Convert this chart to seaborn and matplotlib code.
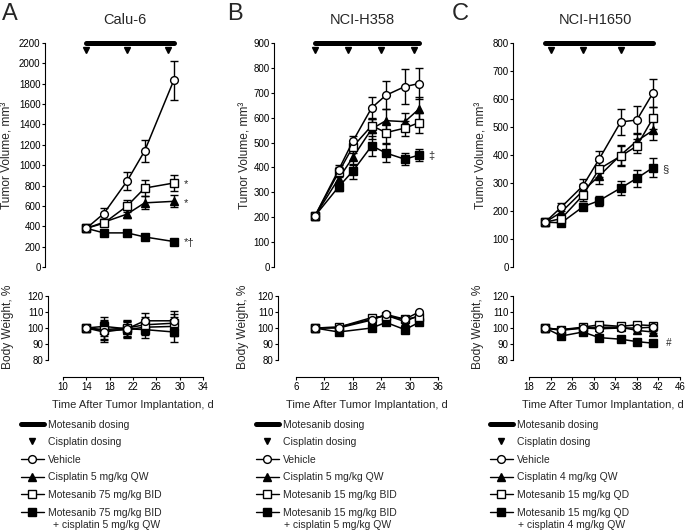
import matplotlib
matplotlib.use("Agg")
import matplotlib.pyplot as plt
from matplotlib.lines import Line2D
import seaborn as sns

# ── panel A : Calu-6 ─────────────────────────────────────────────────────
a_days = [14, 17, 21, 24, 29]
a_vehicle = [380, 525, 845, 1140, 1835]
a_vehicle_err = [20, 50, 90, 110, 190]
a_cis = [380, 440, 520, 630, 645]
a_cis_err = [20, 30, 35, 65, 60]
a_mot = [380, 430, 600, 775, 825]
a_mot_err = [20, 30, 60, 75, 80]
a_combo = [380, 335, 335, 295, 250]
a_combo_err = [20, 15, 15, 15, 12]

a_bw_days = [14, 17, 21, 24, 29]
a_bw_vehicle = [100, 97.5, 99.5, 104.5, 104.5]
a_bw_cis = [100, 98.5, 99, 100.5, 101]
a_bw_mot = [100, 99, 100, 102, 103]
a_bw_combo = [100, 101, 99.5, 99, 97.5]
a_bw_err = [1, 6, 5, 5, 6]

a_cis_dosing = [14, 21, 28]
a_mot_dosing = [14, 29]

# ── panel B : NCI-H358 ───────────────────────────────────────────────────
b_days = [10, 15, 18, 22, 25, 29, 32]
b_vehicle = [205, 390, 505, 640, 690, 725, 737]
b_vehicle_err = [8, 20, 20, 45, 57, 70, 62]
b_cis = [205, 355, 440, 555, 588, 584, 635]
b_cis_err = [8, 25, 30, 40, 45, 35, 50]
b_mot = [205, 380, 483, 568, 540, 558, 580]
b_mot_err = [8, 20, 25, 30, 40, 30, 40]
b_combo = [205, 322, 385, 487, 458, 433, 450]
b_combo_err = [8, 15, 30, 40, 35, 25, 25]

b_bw_days = [10, 15, 22, 25, 29, 32]
b_bw_vehicle = [100, 100, 105, 108.5, 105.5, 110]
b_bw_cis = [100, 100.5, 105.5, 108, 104, 108]
b_bw_mot = [100, 100.5, 106.5, 107.5, 105.5, 107]
b_bw_combo = [100, 97.5, 100, 103.5, 99, 103.5]
b_bw_err = [0.5, 0.5, 0.5, 0.5, 0.5, 0.5]

b_cis_dosing = [10, 17, 24, 31]
b_mot_dosing = [10, 32]

# ── panel C : NCI-H1650 ──────────────────────────────────────────────────
c_days = [21, 24, 28, 31, 35, 38, 41]
c_vehicle = [160, 214, 290, 385, 518, 525, 622]
c_vehicle_err = [5, 15, 25, 30, 45, 50, 50]
c_cis = [160, 196, 272, 325, 400, 450, 488]
c_cis_err = [5, 15, 25, 30, 35, 30, 35]
c_mot = [160, 173, 256, 350, 396, 432, 532]
c_mot_err = [5, 15, 20, 30, 35, 25, 40]
c_combo = [160, 158, 215, 237, 282, 317, 355]
c_combo_err = [5, 10, 12, 18, 25, 30, 35]

c_bw_days = [21, 24, 28, 31, 35, 38, 41]
c_bw_vehicle = [100, 98.5, 100, 99.5, 100, 100, 100.5]
c_bw_cis = [100, 99, 100, 100.5, 100.5, 98.5, 97.5]
c_bw_mot = [100, 99, 100.5, 102, 101, 102, 101.5]
c_bw_combo = [100, 95, 97.5, 94, 93, 91.5, 90.5]
c_bw_err = [0.5, 0.5, 0.5, 0.5, 0.5, 0.5, 0.5]

c_cis_dosing = [22, 28, 35]
c_mot_dosing = [21, 41]

# ── style ────────────────────────────────────────────────────────────────
sns.set_theme(style="ticks")
plt.rcParams["font.family"] = ["Liberation Sans", "DejaVu Sans"]
plt.rcParams.update({
    "axes.linewidth": 0.8,
    "xtick.major.width": 0.8, "ytick.major.width": 0.8,
    "xtick.major.size": 2.2, "ytick.major.size": 2.2,
    "xtick.major.pad": 1.2, "ytick.major.pad": 1.0,
    "xtick.labelsize": 7, "ytick.labelsize": 7,
    "xtick.color": "black", "ytick.color": "black",
    "axes.edgecolor": "black",
})

W, H = 685, 530
fig = plt.figure(figsize=(W / 100, H / 100), dpi=100)


def fx(px):
    return px / W


def fy(py):
    return 1 - py / H


STYLE = {
    "vehicle": dict(marker="o", markerfacecolor="white", markersize=5.6),
    "cis": dict(marker="^", markerfacecolor="black", markersize=5.4),
    "mot": dict(marker="s", markerfacecolor="white", markersize=5.2),
    "combo": dict(marker="s", markerfacecolor="black", markersize=5.2),
}
ORDER = ["combo", "cis", "mot", "vehicle"]


def draw_series(ax, days, vals, err, key):
    ax.errorbar(days, vals, yerr=err, fmt="none", ecolor="black",
                elinewidth=1.0, capsize=2.6, capthick=1.0, zorder=2, clip_on=False)
    sns.lineplot(x=days, y=vals, ax=ax, color="black", lw=1.1, errorbar=None,
                 markeredgecolor="black", markeredgewidth=1.0, zorder=3,
                 clip_on=False, **STYLE[key])


def panel(cfg):
    x0, x1 = cfg["xlim"]
    left, right = fx(cfg["px"][0]), fx(cfg["px"][1])

    # tumour volume
    ax = fig.add_axes([left, fy(267), right - left, 224 / H])
    ymax, ystep = cfg["ymax"], cfg["ystep"]
    for key in ORDER:
        draw_series(ax, cfg["days"], cfg[key], cfg[key + "_err"], key)
    ax.plot(cfg["mot_dosing"], [ymax] * len(cfg["mot_dosing"]), color="black",
            lw=3.6, solid_capstyle="round", clip_on=False)
    ax.plot(cfg["cis_dosing"], [ymax * 0.97] * len(cfg["cis_dosing"]), "v",
            color="black", ms=4.2, clip_on=False)
    ax.set_xlim(x0, x1)
    ax.set_ylim(0, ymax)
    ax.set_yticks(range(0, ymax + 1, ystep))
    ax.set_xticks([])
    ax.set_xlabel("")
    ax.set_ylabel("")
    for s in ["top", "right", "bottom"]:
        ax.spines[s].set_visible(False)
    ax.spines["left"].set_position(("outward", cfg["off_up"] * 0.72))
    for day, val, txt in cfg["notes"]:
        ax.annotate(txt, (day, val), xytext=(7, -1), textcoords="offset points",
                    fontsize=8, va="center", ha="left")

    # body weight
    bx = fig.add_axes([left, fy(360), right - left, 64 / H])
    for key in ORDER:
        draw_series(bx, cfg["bw_days"], cfg["bw_" + key], cfg["bw_err"], key)
    bx.set_xlim(x0, x1)
    bx.set_ylim(80, 120)
    bx.set_yticks([80, 90, 100, 110, 120])
    bx.set_xticks(cfg["xticks"])
    bx.set_xlabel("")
    bx.set_ylabel("")
    for s in ["top", "right"]:
        bx.spines[s].set_visible(False)
    bx.spines["left"].set_position(("outward", cfg["off_low"] * 0.72))
    bx.spines["bottom"].set_position(("outward", 17 * 0.72))
    if cfg.get("bw_note"):
        day, val, txt = cfg["bw_note"]
        bx.annotate(txt, (day, val), xytext=(9, 0), textcoords="offset points",
                    fontsize=7, va="center", ha="left", style="italic")

    # texts
    fig.text(fx(cfg["letter_x"]), fy(14), cfg["letter"], fontsize=17,
             ha="left", va="center")
    fig.text(fx(cfg["title_x"]), fy(20), cfg["title"], fontsize=10.5,
             ha="center", va="center")
    fig.text(fx(cfg["ylab_x"]), fy(155), "Tumor Volume, mm³", fontsize=8.6,
             rotation=90, ha="center", va="center")
    fig.text(fx(cfg["bwlab_x"]), fy(327), "Body Weight, %", fontsize=8.6,
             rotation=90, ha="center", va="center")
    fig.text(fx(cfg["xlab_x"]), fy(405), "Time After Tumor Implantation, d",
             fontsize=8, ha="center", va="center")

    # legend
    handles = [
        Line2D([], [], color="black", lw=3.6, solid_capstyle="round"),
        Line2D([], [], color="black", ls="none", marker="v", ms=4.2),
    ]
    for key in ["vehicle", "cis", "mot", "combo"]:
        handles.append(Line2D([], [], color="black", lw=1.0,
                              markeredgecolor="black", markeredgewidth=1.0,
                              **STYLE[key]))
    fig.legend(handles, cfg["legend"], loc="upper left",
               bbox_to_anchor=(fx(cfg["leg_x"]), fy(419.5)),
               bbox_transform=fig.transFigure, frameon=False, fontsize=7.5,
               handlelength=2.2, handletextpad=0.35, labelspacing=0.73,
               borderpad=0, borderaxespad=0)
    fig.text(fx(cfg["plus_x"]), fy(524.5), cfg["plus"], fontsize=7.5,
             ha="left", va="center")


panels = [
    dict(letter="A", letter_x=2, title="Calu-6", title_x=125, ylab_x=8, bwlab_x=8,
         xlab_x=133, px=(63, 203), xlim=(10, 34), xticks=list(range(10, 35, 4)),
         ymax=2200, ystep=200, off_up=18, off_low=15, leg_x=21, plus_x=53,
         days=a_days, vehicle=a_vehicle, vehicle_err=a_vehicle_err,
         cis=a_cis, cis_err=a_cis_err, mot=a_mot, mot_err=a_mot_err,
         combo=a_combo, combo_err=a_combo_err,
         bw_days=a_bw_days, bw_vehicle=a_bw_vehicle, bw_cis=a_bw_cis,
         bw_mot=a_bw_mot, bw_combo=a_bw_combo, bw_err=a_bw_err,
         cis_dosing=a_cis_dosing, mot_dosing=a_mot_dosing,
         notes=[(29, 825, "*"), (29, 645, "*"), (29, 250, "*†")],
         legend=["Motesanib dosing", "Cisplatin dosing", "Vehicle",
                 "Cisplatin 5 mg/kg QW", "Motesanib 75 mg/kg BID",
                 "Motesanib 75 mg/kg BID"],
         plus="+ cisplatin 5 mg/kg QW"),
    dict(letter="B", letter_x=227, title="NCI-H358", title_x=362, ylab_x=245, bwlab_x=243,
         xlab_x=367, px=(296, 438), xlim=(6, 36), xticks=list(range(6, 37, 6)),
         ymax=900, ystep=100, off_up=22, off_low=18, leg_x=256, plus_x=284,
         days=b_days, vehicle=b_vehicle, vehicle_err=b_vehicle_err,
         cis=b_cis, cis_err=b_cis_err, mot=b_mot, mot_err=b_mot_err,
         combo=b_combo, combo_err=b_combo_err,
         bw_days=b_bw_days, bw_vehicle=b_bw_vehicle, bw_cis=b_bw_cis,
         bw_mot=b_bw_mot, bw_combo=b_bw_combo, bw_err=b_bw_err,
         cis_dosing=b_cis_dosing, mot_dosing=b_mot_dosing,
         notes=[(32, 450, "‡")],
         legend=["Motesanib dosing", "Cisplatin dosing", "Vehicle",
                 "Cisplatin 5 mg/kg QW", "Motesanib 15 mg/kg BID",
                 "Motesanib 15 mg/kg BID"],
         plus="+ cisplatin 5 mg/kg QW"),
    dict(letter="C", letter_x=452, title="NCI-H1650", title_x=595, ylab_x=481, bwlab_x=478,
         xlab_x=603, px=(529, 680), xlim=(18, 46), xticks=list(range(18, 47, 4)),
         ymax=800, ystep=100, off_up=16, off_low=16, leg_x=490, plus_x=518,
         days=c_days, vehicle=c_vehicle, vehicle_err=c_vehicle_err,
         cis=c_cis, cis_err=c_cis_err, mot=c_mot, mot_err=c_mot_err,
         combo=c_combo, combo_err=c_combo_err,
         bw_days=c_bw_days, bw_vehicle=c_bw_vehicle, bw_cis=c_bw_cis,
         bw_mot=c_bw_mot, bw_combo=c_bw_combo, bw_err=c_bw_err,
         cis_dosing=c_cis_dosing, mot_dosing=c_mot_dosing,
         notes=[(41, 355, "§")], bw_note=(41, 90.5, "#"),
         legend=["Motesanib dosing", "Cisplatin dosing", "Vehicle",
                 "Cisplatin 4 mg/kg QW", "Motesanib 15 mg/kg QD",
                 "Motesanib 15 mg/kg QD"],
         plus="+ cisplatin 4 mg/kg QW"),
]

for cfg in panels:
    panel(cfg)

fig.savefig("out.png", dpi=100)
